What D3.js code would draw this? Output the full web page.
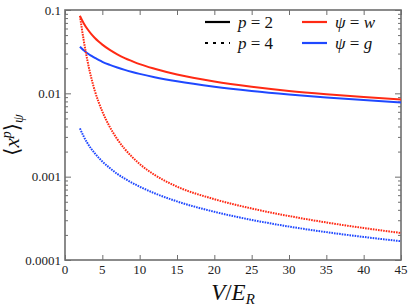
<!DOCTYPE html>
<html>
<head>
<meta charset="utf-8">
<script src="https://d3js.org/d3.v7.min.js"></script>
<style>
  body { margin: 0; background: #fff; }
  svg { display: block; }
</style>
</head>
<body>
<div id="container"></div>
<script>
// potential depth V/E_R
let potential = [2, 2.5, 3, 3.5, 4, 4.5, 5, 6, 7, 8, 9, 10, 12, 15, 20, 25, 30, 35, 40, 45];
// <x^2>, Wannier (w) and Gaussian (g)
let x2w = [0.0851, 0.0695, 0.0591, 0.0518, 0.0462, 0.0419, 0.0384, 0.0332, 0.0294, 0.0265, 0.0243, 0.0224, 0.0197, 0.0168, 0.01385, 0.012, 0.0107, 0.00977, 0.00904, 0.00845];
let x2g = [0.0363, 0.0329, 0.0303, 0.0283, 0.0266, 0.0252, 0.0239, 0.02196, 0.0204, 0.0191, 0.01804, 0.01712, 0.01563, 0.01395, 0.01202, 0.01069, 0.0097, 0.00893, 0.0083, 0.00778];
// <x^4>
let x4w = [0.0851, 0.0435, 0.0248, 0.0156, 0.01067, 0.00786, 0.00605, 0.00395, 0.00282, 0.00215, 0.00172, 0.00142, 0.00105, 0.00076, 0.000537, 0.000415, 0.000337, 0.000282, 0.000242, 0.000211];
let x4g = [0.0038, 0.00304, 0.00253, 0.00217, 0.0019, 0.00169, 0.00152, 0.00127, 0.00108, 0.000948, 0.000843, 0.000759, 0.000632, 0.000505, 0.000379, 0.000303, 0.000252, 0.000216, 0.000189, 0.000168];

let xTicks = [0, 5, 10, 15, 20, 25, 30, 35, 40, 45];
let yTicks = [0.0001, 0.001, 0.01, 0.1];
let yTickLabels = ['0.0001', '0.001', '0.01', '0.1'];

let options = { width: 415, height: 308, left: 65, right: 401, top: 10, bottom: 260 };
let red = '#ff2a14', blue = '#1f48ff', axisColor = '#6e6e6e';
let serif = "'Liberation Serif', 'Times New Roman', Times, 'DejaVu Serif', serif";

let svg = d3.select('#container').append('svg')
  .attr('width', options.width)
  .attr('height', options.height)
  .attr('font-family', serif);

let x = d3.scaleLinear().domain([0, 45]).range([options.left, options.right]);
let y = d3.scaleLog().domain([0.0001, 0.1]).range([options.bottom, options.top]);

// minor ticks for log axis
let minor = [];
[0.0001, 0.001, 0.01].forEach(d => { for (let k = 2; k <= 9; k++) minor.push(d * k); });

let g = svg.append('g');

function tickSet(axis, values, len, side) {
  let a = g.append('g').attr('transform', side).call(axis.tickValues(values).tickSize(len).tickFormat(''));
  a.select('.domain').remove();
  a.selectAll('line').attr('stroke', axisColor).attr('stroke-width', 1);
}
// inward ticks (negative size)
tickSet(d3.axisBottom(x), xTicks, -5, `translate(0,${options.bottom})`);
tickSet(d3.axisTop(x), xTicks, -5, `translate(0,${options.top})`);
tickSet(d3.axisLeft(y), yTicks, -6, `translate(${options.left},0)`);
tickSet(d3.axisLeft(y), minor, -3, `translate(${options.left},0)`);
tickSet(d3.axisRight(y), yTicks, -6, `translate(${options.right},0)`);
tickSet(d3.axisRight(y), minor, -3, `translate(${options.right},0)`);

// frame
g.append('rect')
  .attr('x', options.left).attr('y', options.top)
  .attr('width', options.right - options.left)
  .attr('height', options.bottom - options.top)
  .attr('fill', 'none').attr('stroke', axisColor).attr('stroke-width', 1.6);

// tick labels
g.selectAll('.xl').data(xTicks).enter().append('text')
  .attr('font-family', serif)
  .attr('x', d => x(d)).attr('y', options.bottom + 14)
  .attr('text-anchor', 'middle').attr('font-size', 13).attr('fill', '#222')
  .text(d => d);
g.selectAll('.yl').data(yTicks).enter().append('text')
  .attr('font-family', serif)
  .attr('x', options.left - 4).attr('y', d => y(d) + 4.5)
  .attr('text-anchor', 'end').attr('font-size', 13).attr('fill', '#222')
  .text((d, i) => yTickLabels[i]);

// curves
let series = [
  { vals: x2w, color: red, dash: null },
  { vals: x2g, color: blue, dash: null },
  { vals: x4w, color: red, dash: '1.6,1' },
  { vals: x4g, color: blue, dash: '1.6,1' },
];
let line = d3.line().x(d => x(d[0])).y(d => y(d[1])).curve(d3.curveMonotoneX);
series.forEach(s => {
  g.append('path')
    .datum(potential.map((v, i) => [v, s.vals[i]]))
    .attr('d', line)
    .attr('fill', 'none')
    .attr('stroke', s.color)
    .attr('stroke-width', 2)
    .attr('stroke-dasharray', s.dash);
});

// legend
let legend = [
  { x0: 205, y0: 22, color: '#000', dash: null, label: ['p', ' = 2'] },
  { x0: 205, y0: 43, color: '#000', dash: '3,5', label: ['p', ' = 4'] },
  { x0: 302, y0: 22, color: red, dash: null, label: ['ψ', ' = ', 'w'] },
  { x0: 302, y0: 43, color: blue, dash: null, label: ['ψ', ' = ', 'g'] },
];
legend.forEach(l => {
  g.append('line')
    .attr('x1', l.x0).attr('x2', l.x0 + 25)
    .attr('y1', l.y0).attr('y2', l.y0)
    .attr('stroke', l.color).attr('stroke-width', 2.2)
    .attr('stroke-dasharray', l.dash);
  let t = g.append('text')
    .attr('font-family', serif)
    .attr('x', l.x0 + 33).attr('y', l.y0 + 5.5)
    .attr('font-size', 17).attr('fill', '#111')
    .attr('xml:space', 'preserve');
  l.label.forEach((part, i) => {
    t.append('tspan')
      .attr('font-style', i === 1 ? 'normal' : 'italic')
      .text(part);
  });
});

// axis titles
let xt = g.append('text')
  .attr('font-family', serif)
  .attr('x', (options.left + options.right) / 2).attr('y', 300)
  .attr('text-anchor', 'middle').attr('font-size', 23).attr('fill', '#111');
xt.append('tspan').attr('font-style', 'italic').text('V');
xt.append('tspan').text('/');
xt.append('tspan').attr('font-style', 'italic').text('E');
xt.append('tspan').attr('font-style', 'italic').attr('font-size', 15).attr('dy', 4).text('R');

let yt = g.append('text')
  .attr('font-family', serif)
  .attr('transform', `translate(19,${(options.top + options.bottom) / 2}) rotate(-90)`)
  .attr('text-anchor', 'middle').attr('font-size', 21).attr('fill', '#111');
yt.append('tspan').text('⟨');
yt.append('tspan').attr('font-style', 'italic').text('x');
yt.append('tspan').attr('font-style', 'italic').attr('font-size', 14).attr('dy', -8).text('p');
yt.append('tspan').attr('dy', 8).text('⟩');
yt.append('tspan').attr('font-style', 'italic').attr('font-size', 14).attr('dy', 4).text('ψ');
</script>
</body>
</html>
